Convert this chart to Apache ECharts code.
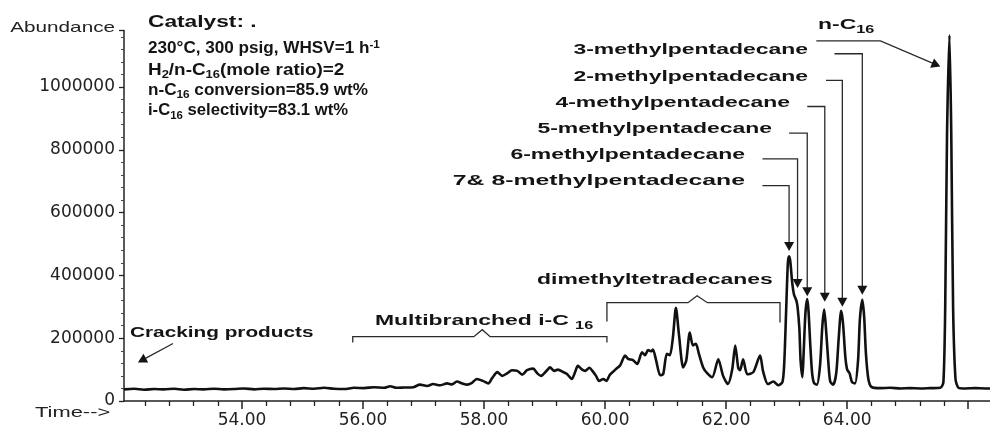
<!DOCTYPE html>
<html>
<head>
<meta charset="utf-8">
<script src="https://cdn.jsdelivr.net/npm/echarts@6/dist/echarts.min.js"></script>
<style>
  html, body { margin: 0; padding: 0; background: #fff; }
  #chart { width: 990px; height: 429px; }
</style>
</head>
<body>
<div id="chart"></div>
<script>
// GC trace: retention time (min) and detector abundance
const retentionTime = [
  52.05, 52.22, 52.38, 52.55, 52.71, 52.88, 53.04, 53.21, 53.37, 53.54,
  53.70, 53.87, 54.03, 54.20, 54.36, 54.53, 54.69, 54.86, 55.02, 55.19,
  55.36, 55.52, 55.69, 55.85, 56.02, 56.18, 56.35, 56.45, 56.55, 56.68,
  56.83, 56.94, 57.06, 57.16, 57.27, 57.39, 57.47, 57.55, 57.64, 57.72,
  57.80, 57.88, 57.98, 58.07, 58.13, 58.22, 58.30, 58.38, 58.46, 58.55,
  58.63, 58.71, 58.81, 58.88, 58.94, 59.04, 59.09, 59.16, 59.22, 59.31,
  59.37, 59.45, 59.50, 59.55, 59.62, 59.67, 59.74, 59.79, 59.85, 59.90,
  59.97, 60.02, 60.08, 60.17, 60.25, 60.33, 60.38, 60.46, 60.53, 60.61,
  60.66, 60.71, 60.76, 60.79, 60.84, 60.91, 60.96, 61.02, 61.07, 61.12,
  61.17, 61.22, 61.29, 61.34, 61.40, 61.45, 61.50, 61.55, 61.62, 61.69,
  61.77, 61.87, 61.95, 62.03, 62.10, 62.15, 62.20, 62.23, 62.28, 62.35,
  62.45, 62.56, 62.61, 62.69, 62.78, 62.86, 62.93, 62.96, 62.99, 63.02,
  63.04, 63.06, 63.09, 63.12, 63.16, 63.18, 63.21, 63.23, 63.26, 63.28,
  63.31, 63.34, 63.36, 63.39, 63.42, 63.45, 63.50, 63.55, 63.59, 63.62,
  63.65, 63.69, 63.72, 63.77, 63.82, 63.86, 63.90, 63.93, 63.97, 64.00,
  64.04, 64.08, 64.13, 64.18, 64.21, 64.25, 64.28, 64.31, 64.35, 64.40,
  64.55, 64.71, 64.88, 65.04, 65.21, 65.37, 65.54, 65.59, 65.62, 65.65,
  65.69, 65.72, 65.75, 65.79, 65.84, 65.95, 66.12, 66.28, 66.36
];
const abundance = [
  37000, 39000, 36000, 38000, 37000, 39000, 36000, 38000, 37000, 39000,
  37000, 38000, 40000, 37000, 39000, 38000, 40000, 38000, 41000, 39000,
  42000, 39000, 38000, 42000, 41000, 44000, 42000, 47000, 42000, 43000,
  44000, 52000, 48000, 54000, 50000, 56000, 53000, 62000, 56000, 52000,
  58000, 70000, 64000, 56000, 72000, 92000, 80000, 88000, 98000, 96000,
  84000, 98000, 103000, 88000, 80000, 98000, 107000, 96000, 100000, 92000,
  86000, 70000, 90000, 112000, 100000, 96000, 106000, 96000, 80000, 64000,
  70000, 64000, 84000, 100000, 114000, 145000, 134000, 130000, 118000, 155000,
  146000, 162000, 158000, 164000, 132000, 82000, 86000, 150000, 146000, 202000,
  297000, 212000, 107000, 128000, 218000, 177000, 182000, 150000, 107000, 88000,
  76000, 133000, 80000, 54000, 100000, 177000, 105000, 98000, 133000, 85000,
  92000, 145000, 95000, 54000, 62000, 50000, 60000, 120000, 280000, 440000,
  461000, 445000, 380000, 340000, 320000, 300000, 230000, 130000, 76000, 150000,
  280000, 325000, 290000, 180000, 90000, 58000, 52000, 110000, 240000, 291000,
  230000, 120000, 62000, 52000, 90000, 200000, 287000, 250000, 140000, 100000,
  88000, 60000, 56000, 130000, 260000, 322000, 270000, 150000, 70000, 45000,
  41000, 42000, 40000, 41000, 40000, 41000, 42000, 60000, 300000, 850000,
  1165000, 850000, 300000, 70000, 42000, 40000, 41000, 40000, 40000
];

// axis ticks
const xMajorTicks = [54, 56, 58, 60, 62, 64, 66];
const xTickLabels = [54, 56, 58, 60, 62, 64];
const yTickStep = 200000;

// minor time ticks every 0.4 min between the majors
const xMinorTicks = [];
for (let k = 131; k <= 165; k++) {
  const v = Math.round(k * 0.4 * 100) / 100;
  if (Math.abs(v / 2 - Math.round(v / 2)) > 1e-6) xMinorTicks.push(v);
}

// leader lines (time, abundance) ending in arrowheads, and range brackets
const marks = [
  { arrow: true, pts: [[63.49, 1147000], [64.55, 1147000], [65.54, 1065000]] },
  { arrow: true, pts: [[63.79, 1106000], [64.25, 1106000], [64.25, 338000]] },
  { arrow: true, pts: [[63.65, 1021000], [63.92, 1021000], [63.92, 300000]] },
  { arrow: true, pts: [[63.34, 938000], [63.63, 938000], [63.63, 316000]] },
  { arrow: true, pts: [[63.04, 853000], [63.34, 853000], [63.34, 334000]] },
  { arrow: true, pts: [[62.60, 771000], [63.18, 771000], [63.18, 360000]] },
  { arrow: true, pts: [[62.60, 686000], [63.04, 686000], [63.04, 478000]] },
  { arrow: true, pts: [[52.86, 183000], [52.28, 123000]] },
  { arrow: false, pts: [[55.83, 186000], [55.83, 205000], [57.83, 205000], [57.97, 227000], [58.10, 205000], [60.03, 205000], [60.03, 186000]] },
  { arrow: false, pts: [[60.03, 253000], [60.03, 313000], [61.37, 313000], [61.52, 335000], [61.69, 313000], [62.89, 313000], [62.89, 250000]] }
];

const INK = '#141414';
const BOLD = 'Liberation Sans';

function boldRich(size) {
  return {
    b: { fontFamily: BOLD, fontWeight: 'bold', fontSize: size, lineHeight: 20, fill: INK },
    s: { fontFamily: BOLD, fontWeight: 'bold', fontSize: 11, lineHeight: 11, verticalAlign: 'bottom', fill: INK },
    u: { fontFamily: BOLD, fontWeight: 'bold', fontSize: 11, lineHeight: 11, verticalAlign: 'top', fill: INK }
  };
}

function label(text, x, y, align, scaleX, size) {
  return {
    type: 'text', x: x, y: y, scaleX: scaleX || 1.48, silent: true,
    style: {
      x: 0, y: 0, text: text, rich: boldRich(size || 15.5),
      align: align || 'left', verticalAlign: 'middle', fill: INK
    }
  };
}

const chart = echarts.init(document.getElementById('chart'), null, { renderer: 'canvas' });

chart.setOption({
  animation: false,
  backgroundColor: '#fff',
  grid: { left: 124, right: 0, top: 30.5, bottom: 25, containLabel: false },
  xAxis: [
    {
      type: 'value', min: 52.05, max: 66.36,
      axisLine: { show: true, lineStyle: { color: '#222', width: 1.5 } },
      axisTick: { show: true, customValues: xMajorTicks, length: 8, lineStyle: { color: '#222', width: 1.5 } },
      axisLabel: {
        customValues: xTickLabels, margin: 11,
        formatter: v => v.toFixed(2),
        fontFamily: 'DejaVu Sans', fontSize: 17, color: '#222'
      },
      splitLine: { show: false }
    },
    {
      type: 'value', min: 52.05, max: 66.36, position: 'bottom',
      axisLine: { show: false },
      axisTick: { show: true, customValues: xMinorTicks, length: 5, lineStyle: { color: '#222', width: 1.3 } },
      axisLabel: { show: false },
      splitLine: { show: false }
    }
  ],
  yAxis: {
    type: 'value', min: 0, max: 1180000, interval: yTickStep,
    axisLine: { show: true, lineStyle: { color: '#222', width: 1.5 } },
    axisTick: { show: true, length: 5, lineStyle: { color: '#222', width: 1.3 } },
    minorTick: { show: true, splitNumber: 5, length: 3, lineStyle: { color: '#444', width: 1 } },
    axisLabel: {
      showMaxLabel: false, margin: 9,
      formatter: v => String(v),
      fontFamily: 'DejaVu Sans', fontSize: 17, color: '#222'
    },
    splitLine: { show: false }
  },
  series: [
    {
      type: 'custom', coordinateSystem: 'cartesian2d', silent: true, clip: false, z: 2,
      data: marks.map((m, i) => [m.pts[0][0], m.pts[0][1], i]),
      renderItem: function (params, api) {
        const m = marks[params.dataIndex];
        const pts = m.pts.map(p => api.coord(p));
        const children = [];
        if (m.arrow) {
          const tip = pts[pts.length - 1];
          const prev = pts[pts.length - 2];
          const dx = tip[0] - prev[0], dy = tip[1] - prev[1];
          const len = Math.hypot(dx, dy);
          const ux = dx / len, uy = dy / len;
          const L = 9, W = 5;
          const base = [tip[0] - ux * L, tip[1] - uy * L];
          pts[pts.length - 1] = [base[0] + ux, base[1] + uy];
          children.push({
            type: 'polygon',
            shape: { points: [tip, [base[0] - uy * W, base[1] + ux * W], [base[0] + uy * W, base[1] - ux * W]] },
            style: { fill: INK }
          });
        }
        children.unshift({
          type: 'polyline', shape: { points: pts },
          style: { stroke: '#2a2a2a', lineWidth: 1.3, fill: null }
        });
        return { type: 'group', children: children };
      }
    },
    {
      type: 'line', name: 'Abundance', silent: true, z: 3,
      data: retentionTime.map((t, i) => [t, abundance[i]]),
      showSymbol: false, smooth: 0.25,
      lineStyle: { color: '#111', width: 2.6, join: 'round' }
    }
  ],
  graphic: [
    {
      type: 'text', x: 115, y: 28, scaleX: 1.38, silent: true,
      style: { x: 0, y: 0, text: 'Abundance', fontFamily: 'Liberation Sans', fontSize: 15, fill: '#222', align: 'right', verticalAlign: 'middle' }
    },
    {
      type: 'text', x: 35, y: 413, scaleX: 1.46, silent: true,
      style: { x: 0, y: 0, text: 'Time-->', fontFamily: 'Liberation Sans', fontSize: 15, fill: '#222', align: 'left', verticalAlign: 'middle' }
    },
    label('{b|Catalyst: .}', 148, 23, 'left', 1.42, 16),
    label('{b|230°C, 300 psig, WHSV=1 h}{u|-1}', 148, 49, 'left', 1.07, 16),
    label('{b|H}{s|2}{b|/n-C}{s|16}{b|(mole ratio)=2}', 148, 70.5, 'left', 1.18, 16),
    label('{b|n-C}{s|16}{b| conversion=85.9 wt%}', 148, 90.5, 'left', 1.07, 16),
    label('{b|i-C}{s|16}{b| selectivity=83.1 wt%}', 148, 111, 'left', 1.04, 16),
    label('{b|n-C}{s|16}', 818, 25),
    label('{b|3-methylpentadecane}', 808, 50, 'right'),
    label('{b|2-methylpentadecane}', 808, 77, 'right'),
    label('{b|4-methylpentadecane}', 790, 103, 'right'),
    label('{b|5-methylpentadecane}', 772, 129, 'right'),
    label('{b|6-methylpentadecane}', 745, 155, 'right'),
    label('{b|7& 8-methylpentadecane}', 745, 181, 'right', 1.6),
    label('{b|dimethyltetradecanes}', 537, 280),
    label('{b|Multibranched i-C }{s|16}', 375, 321),
    label('{b|Cracking products}', 130, 333, 'left', 1.34)
  ]
});
</script>
</body>
</html>
